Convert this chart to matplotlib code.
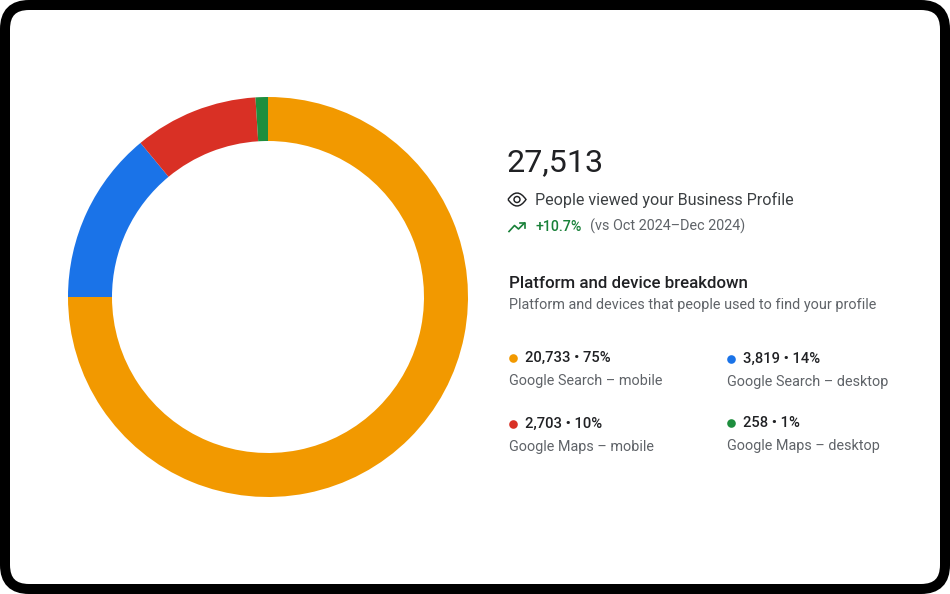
"""Business Profile views: donut of platform/device share plus text panel."""
import matplotlib
matplotlib.use("Agg")
import matplotlib.pyplot as plt
from matplotlib.patches import Circle, FancyBboxPatch, PathPatch
from matplotlib.path import Path

plt.rcParams["font.family"] = ["Roboto", "DejaVu Sans"]

W, H = 950, 594

# donut slices, clockwise from 12 o'clock
SHARES = [75, 14, 10, 1]
COLORS = ["#F29900", "#1A73E8", "#D93025", "#1E8E3E"]

COUNTS = ["20,733", "3,819", "2,703", "258"]
PERCENTS = ["75%", "14%", "10%", "1%"]
NAMES = ["Google Search – mobile", "Google Search – desktop",
         "Google Maps – mobile", "Google Maps – desktop"]

TOTAL = "27,513"
CHANGE = "+10.7%"
PERIOD = "(vs Oct 2024–Dec 2024)"

DARK = "#202124"
GREY = "#5F6368"
GREEN = "#188038"

fig = plt.figure(figsize=(W / 100, H / 100), dpi=100, facecolor="white")

# overlay in pixel coordinates, y down, for the frame, icons and text
bg = fig.add_axes([0, 0, 1, 1])
bg.set_xlim(0, W)
bg.set_ylim(H, 0)
bg.axis("off")

bg.add_patch(FancyBboxPatch((5, 5), W - 10, H - 10,
                            boxstyle="round,pad=0,rounding_size=24",
                            fc="white", ec="black", lw=7.2))

# donut, centre (268, 297), outer radius 200 px
cx, cy, r = 268, 297, 200
pie_ax = fig.add_axes([(cx - r) / W, 1 - (cy + r) / H, 2 * r / W, 2 * r / H])
pie_ax.pie(SHARES, colors=COLORS, startangle=90, counterclock=False, radius=1.0,
           wedgeprops=dict(width=44 / 200, linewidth=0))
pie_ax.set_xlim(-1, 1)
pie_ax.set_ylim(-1, 1)

# header block
bg.text(507, 163, TOTAL, fontsize=23.2, color=DARK, va="center", ha="left")
bg.text(535, 200, "People viewed your Business Profile", fontsize=11.65, color="#3C4043",
        va="center", ha="left")
bg.text(535, 227, CHANGE, fontsize=10.2, color=GREEN, weight="medium", va="center", ha="left")
bg.text(590, 226, PERIOD, fontsize=10.4, color=GREY, va="center", ha="left")

# eye icon
eye = Path([(508, 199.5), (517, 186.5), (526, 199.5), (517, 212.5), (508, 199.5)],
           [Path.MOVETO, Path.CURVE3, Path.CURVE3, Path.CURVE3, Path.CURVE3])
bg.add_patch(PathPatch(eye, fc="none", ec=DARK, lw=1.05))
bg.add_patch(Circle((517, 199.5), 3.0, fc="none", ec=DARK, lw=1.05))

# trending-up icon
bg.plot([509, 514.5, 518.5, 524.5], [231.5, 225.5, 229, 223], color=GREEN, lw=1.2)
bg.plot([520, 524.8, 524.8], [222.8, 222.8, 227.5], color=GREEN, lw=1.2)

# breakdown heading
bg.text(509, 283, "Platform and device breakdown", fontsize=12.2, color=DARK, weight="medium",
        va="center", ha="left")
bg.text(509, 305, "Platform and devices that people used to find your profile", fontsize=10.4,
        color=GREY, va="center", ha="left")

# legend cells: dot x, value y, name y
cells = [(513, 358, 381), (731, 359, 382), (513, 424, 447), (731, 423, 446)]
for (x, y1, y2), col, cnt, pct, name in zip(cells, COLORS, COUNTS, PERCENTS, NAMES):
    bg.plot([x], [y1], "o", ms=6.2, color=col, mec="none")
    bg.text(x + 12, y1, f"{cnt} • {pct}", fontsize=10.6, color=DARK, weight="medium",
            va="center", ha="left")
    bg.text(x - 4, y2, name, fontsize=10.4, color=GREY, va="center", ha="left")

fig.savefig("out.png", dpi=100)
